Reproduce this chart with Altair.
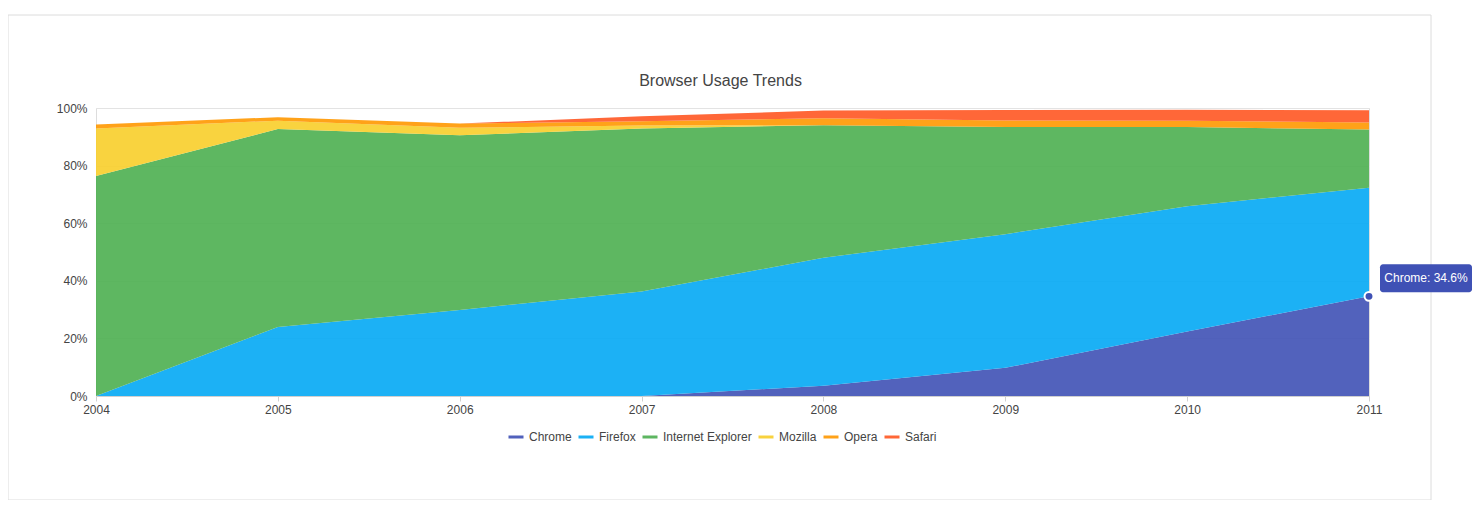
import altair as alt
import pandas as pd

years = [2004, 2005, 2006, 2007, 2008, 2009, 2010, 2011]
browsers = ["Chrome", "Firefox", "Internet Explorer", "Mozilla", "Opera", "Safari"]
chrome = [0, 0, 0, 0, 3.6, 9.8, 22.4, 34.6]
firefox = [0, 24.0, 29.9, 36.3, 44.4, 46.4, 43.5, 37.7]
ie = [76.4, 68.7, 60.6, 56.6, 46.0, 37.2, 27.5, 20.2]
mozilla = [16.5, 2.9, 2.6, 1.0, 0, 0, 0, 0]
opera = [1.4, 1.2, 1.5, 1.5, 2.4, 2.3, 2.2, 2.5]
safari = [0, 0, 0, 1.7, 2.7, 3.6, 3.8, 4.2]
colors = ["#3F51B5", "#03A9F4", "#4CAF50", "#F8CE2A", "#FF9800", "#FF5722"]
y_ticks = [0, 20, 40, 60, 80, 100]
title_text = "Browser Usage Trends"
callout_browser = "Chrome"
callout_year = 2011

series = [chrome, firefox, ie, mozilla, opera, safari]
rows = []
for b, vals in zip(browsers, series):
    for yr, v in zip(years, vals):
        rows.append({"year": yr, "browser": b, "share": v})
df = pd.DataFrame(rows)

FONT = "Liberation Sans"
PW, PH = 1273, 288

color_scale = alt.Scale(domain=browsers, range=colors)

card = alt.Chart(alt.Data(values=[{}])).mark_rect(
    fill="transparent", stroke="#dcdcdc", strokeWidth=1
).encode(
    x=alt.value(-88), x2=alt.value(1335), y=alt.value(-93), y2=alt.value(392)
)

title = alt.Chart(alt.Data(values=[{"t": title_text}])).mark_text(
    fontSize=16, font=FONT, color="#444", align="center", baseline="middle"
).encode(x=alt.value(PW / 2 - 12), y=alt.value(-27), text="t:N")

xenc = alt.X(
    "year:Q",
    scale=alt.Scale(domain=[years[0], years[-1]], nice=False, zero=False),
    axis=alt.Axis(
        values=years, format="d", title=None, labelFontSize=12, labelColor="#444",
        labelFont=FONT, labelFlush=False, grid=False, tickSize=5, tickColor="#d0d0d0",
        domainColor="#d0d0d0", labelPadding=3,
    ),
)

areas = alt.Chart(df).mark_area(opacity=0.9, strokeWidth=0).encode(
    x=xenc,
    y=alt.Y(
        "share:Q",
        stack="zero",
        scale=alt.Scale(domain=[0, 100], nice=False),
        axis=alt.Axis(
            values=y_ticks, labelExpr="datum.value + '%'", title=None, domain=False,
            ticks=False, labelFontSize=12, labelColor="#444", labelFont=FONT,
            gridColor="#e3e3e3", labelPadding=9,
        ),
    ),
    fill=alt.Fill(
        "browser:N", scale=color_scale, sort=browsers,
        legend=alt.Legend(
            title=None, orient="none", legendX=411, legendY=320, direction="horizontal",
            symbolType="stroke", symbolStrokeWidth=3, symbolSize=225,
            labelFontSize=12, labelColor="#444", labelFont=FONT, columnPadding=0,
            labelOffset=4,
        ),
    ),
    stroke=alt.Stroke("browser:N", scale=color_scale, sort=browsers, legend=None),
    order=alt.Order("order:Q"),
).transform_calculate(
    order="indexof(" + str(browsers) + ", datum.browser)"
)

callout_base = alt.Chart(df).transform_filter(
    (alt.datum.browser == callout_browser) & (alt.datum.year == callout_year)
).transform_calculate(
    label="datum.browser + ': ' + format(datum.share, '.1f') + '%'"
)

point = callout_base.mark_point(
    filled=True, fill="#3F51B5", stroke="white", strokeWidth=2, size=80, opacity=1
).encode(x="year:Q", y="share:Q")

box = callout_base.mark_rect(
    fill="#3F51B5", cornerRadius=3, xOffset=11, x2Offset=103, yOffset=-32, y2Offset=-4
).encode(x="year:Q", x2="year:Q", y="share:Q", y2="share:Q")

label = callout_base.mark_text(
    color="white", fontSize=12, font=FONT, xOffset=57, yOffset=-18, align="center",
    baseline="middle",
).encode(x="year:Q", y="share:Q", text="label:N")

chart = alt.layer(card, title, areas, point, box, label).properties(
    width=PW, height=PH,
    autosize=alt.AutoSizeParams(type="none"),
    padding={"left": 88, "top": 100, "right": 103, "bottom": 104},
).configure_view(stroke=None).configure(background="white")

chart.save("out.html", embed_options={"renderer": "svg", "actions": False})
